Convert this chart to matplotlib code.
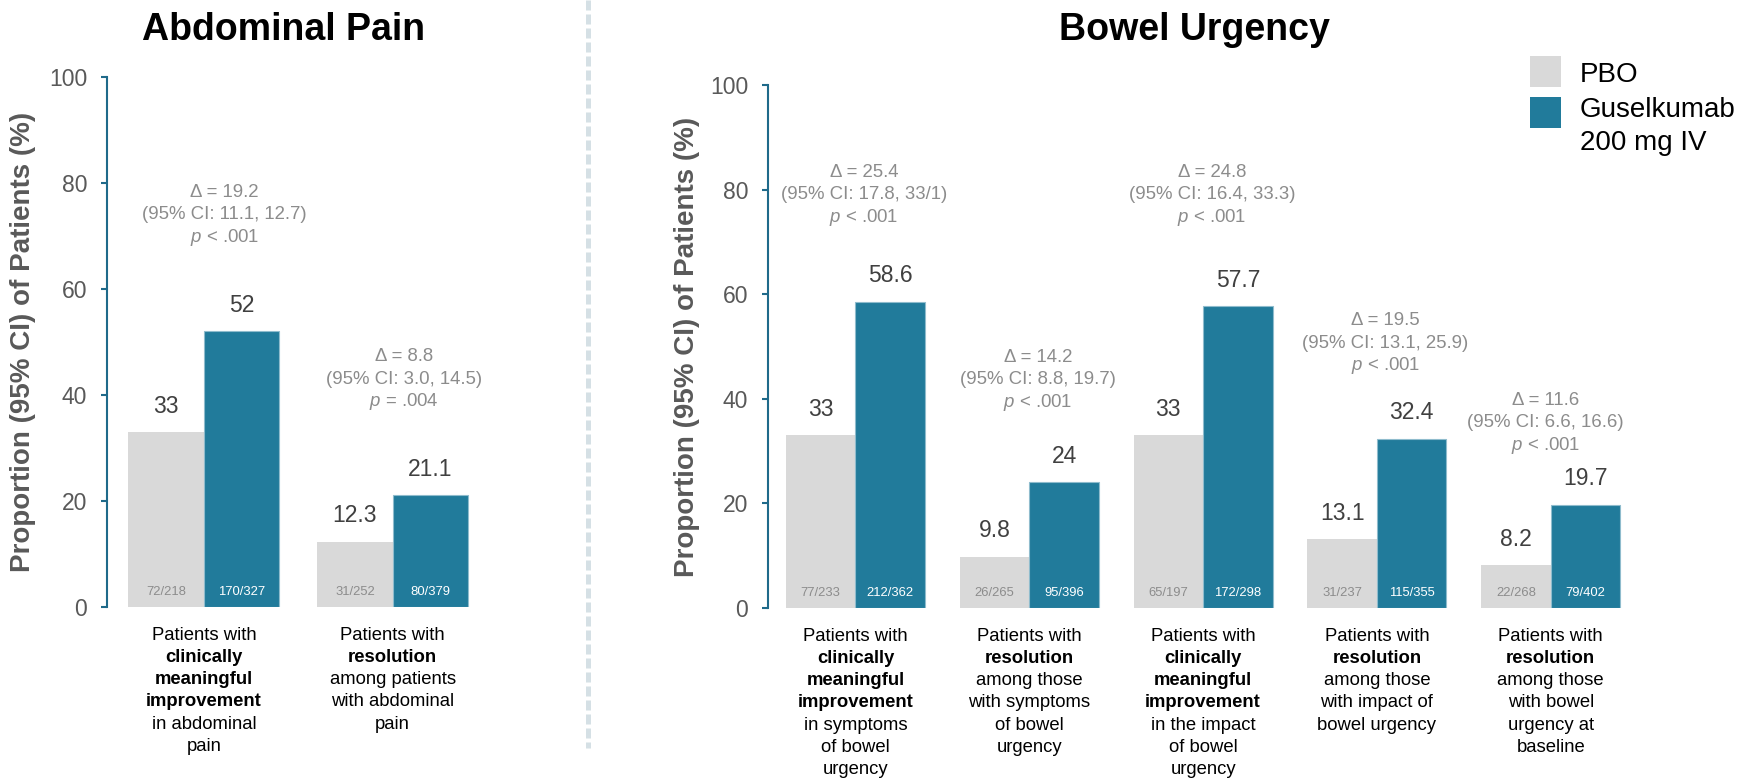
import matplotlib
matplotlib.use("Agg")
import matplotlib.pyplot as plt
from matplotlib.lines import Line2D
from matplotlib.patches import Rectangle
import numpy as np

plt.rcParams['font.family'] = ['Liberation Sans', 'DejaVu Sans']
plt.rcParams['mathtext.fontset'] = 'custom'
plt.rcParams['mathtext.rm'] = 'Liberation Sans'
plt.rcParams['mathtext.it'] = 'Liberation Sans:italic'
plt.rcParams['mathtext.bf'] = 'Liberation Sans:bold'

# ---- data ----
# lines starting with ** are drawn in bold
pain_labels = [
    "Patients with\n**clinically\n**meaningful\n**improvement\nin abdominal\npain",
    "Patients with\n**resolution\namong patients\nwith abdominal\npain",
]
pain_pbo = [33, 12.3]
pain_gus = [52, 21.1]
pain_pbo_n = ["72/218", "31/252"]
pain_gus_n = ["170/327", "80/379"]
pain_delta = ["19.2", "8.8"]
pain_ci = ["11.1, 12.7", "3.0, 14.5"]
pain_p = ["< .001", "= .004"]

urg_labels = [
    "Patients with\n**clinically\n**meaningful\n**improvement\nin symptoms\nof bowel\nurgency",
    "Patients with\n**resolution\namong those\nwith symptoms\nof bowel\nurgency",
    "Patients with\n**clinically\n**meaningful\n**improvement\nin the impact\nof bowel\nurgency",
    "Patients with\n**resolution\namong those\nwith impact of\nbowel urgency",
    "Patients with\n**resolution\namong those\nwith bowel\nurgency at\nbaseline",
]
urg_pbo = [33, 9.8, 33, 13.1, 8.2]
urg_gus = [58.6, 24, 57.7, 32.4, 19.7]
urg_pbo_n = ["77/233", "26/265", "65/197", "31/237", "22/268"]
urg_gus_n = ["212/362", "95/396", "172/298", "115/355", "79/402"]
urg_delta = ["25.4", "14.2", "24.8", "19.5", "11.6"]
urg_ci = ["17.8, 33/1", "8.8, 19.7", "16.4, 33.3", "13.1, 25.9", "6.6, 16.6"]
urg_p = ["< .001", "< .001", "< .001", "< .001", "< .001"]

# layout of the difference annotations (height of middle line, x shift)
pain_delta_y = [74.0, 43.0]
pain_delta_dx = [0.11, 0.06]
urg_delta_y = [79.0, 43.6, 79.0, 50.6, 35.4]
urg_delta_dx = [0.05, 0.05, 0.05, 0.05, -0.03]

PBO_COLOR = "#d9d9d9"
GUS_COLOR = "#217b9b"
GUS_EDGE = "#8fbccd"
SPINE_COLOR = "#1f6a8a"
TICK_COLOR = "#595959"
VALUE_COLOR = "#404040"
DELTA_COLOR = "#8c8c8c"

W, H = 1748, 779
fig = plt.figure(figsize=(W / 100, H / 100), dpi=100)


def px_axes(x0, x1, y_top, y_bot):
    return [x0 / W, 1 - y_bot / H, (x1 - x0) / W, (y_bot - y_top) / H]


def draw_panel(ax, labels, pbo, gus, pbo_n, gus_n, delta, ci, pval, dy, dx, xlim, ylabel_x):
    x = np.arange(len(labels))
    w = 0.4
    b1 = ax.bar(x - w / 2, pbo, w, color=PBO_COLOR, linewidth=0)
    b2 = ax.bar(x + w / 2, gus, w, color=GUS_COLOR, edgecolor=GUS_EDGE, linewidth=0.8)

    for bars, vals, counts, ccol in [(b1, pbo, pbo_n, DELTA_COLOR), (b2, gus, gus_n, "white")]:
        for rect, v, c in zip(bars, vals, counts):
            cx = rect.get_x() + rect.get_width() / 2
            ax.annotate(f"{v:g}", (cx, v), xytext=(0, 18.7), textcoords="offset points",
                        ha="center", va="center", fontsize=16.5, color=VALUE_COLOR)
            ax.annotate(c, (cx, 0), xytext=(0, 10.8), textcoords="offset points",
                        ha="center", va="center", fontsize=9.4, color=ccol)

    # difference annotations
    for i in range(len(labels)):
        lines = [f"\u0394 = {delta[i]}", f"(95% CI: {ci[i]})", f"$\\mathit{{p}}$ {pval[i]}"]
        for j, line in enumerate(lines):
            ax.annotate(line, (x[i] + dx[i], dy[i]), xytext=(0, 16.2 * (1 - j)),
                        textcoords="offset points", ha="center", va="center",
                        fontsize=13.4, color=DELTA_COLOR)

    # category labels under the bars
    for i, lab in enumerate(labels):
        for j, line in enumerate(lab.split("\n")):
            bold = line.startswith("**")
            ax.annotate(line.lstrip("*"), (x[i], 0), xycoords=("data", "axes fraction"),
                        xytext=(0, -(20.2 + 16.05 * j)), textcoords="offset points",
                        ha="center", va="center", fontsize=13.3,
                        fontweight="bold" if bold else "normal", color="black",
                        annotation_clip=False)

    ax.set_xlim(*xlim)
    ax.set_ylim(0, 100)
    ax.set_yticks([0, 20, 40, 60, 80, 100])
    ax.set_xticks([])
    for s in ["top", "right", "bottom"]:
        ax.spines[s].set_visible(False)
    ax.spines["left"].set_color(SPINE_COLOR)
    ax.spines["left"].set_linewidth(1.5)
    ax.tick_params(axis="y", colors=SPINE_COLOR, labelcolor=TICK_COLOR, labelsize=16.5,
                   length=4.3, width=1.5, pad=10)
    ax.set_ylabel("Proportion (95% CI) of Patients (%)", fontsize=20, fontweight="bold",
                  color=TICK_COLOR)
    ax.yaxis.set_label_coords(ylabel_x, 0.5)
    ax.yaxis.label.set_verticalalignment("center")
    ax.set_facecolor("none")


ax1 = fig.add_axes(px_axes(107, 506, 77, 607))
draw_panel(ax1, pain_labels, pain_pbo, pain_gus, pain_pbo_n, pain_gus_n,
           pain_delta, pain_ci, pain_p, pain_delta_y, pain_delta_dx,
           (-0.513, 1.6), (23 - 107) / 399)

ax2 = fig.add_axes(px_axes(768, 1655, 85, 608))
draw_panel(ax2, urg_labels, urg_pbo, urg_gus, urg_pbo_n, urg_gus_n,
           urg_delta, urg_ci, urg_p, urg_delta_y, urg_delta_dx,
           (-0.503, 4.6), (687 - 768) / 887)

# titles
fig.text(284 / W, 1 - 40 / H, "Abdominal Pain", ha="center", va="baseline",
         fontsize=27, fontweight="bold", color="black")
fig.text(1194 / W, 1 - 40 / H, "Bowel Urgency", ha="center", va="baseline",
         fontsize=27, fontweight="bold", color="black")

# dashed separator between the panels
fig.add_artist(Line2D([588 / W, 588 / W], [1, 1 - 748 / H], transform=fig.transFigure,
                      color="#d5e0e5", linewidth=3.6, linestyle=(0, (2.0, 0.8))))

# legend
fig.add_artist(Rectangle((1530 / W, 1 - 87 / H), 31 / W, 31 / H, transform=fig.transFigure,
                         facecolor=PBO_COLOR, edgecolor="none"))
fig.add_artist(Rectangle((1530 / W, 1 - 128 / H), 31 / W, 31 / H, transform=fig.transFigure,
                         facecolor=GUS_COLOR, edgecolor="none"))
fig.text(1580 / W, 1 - 75 / H, "PBO", va="center", fontsize=20, color="black")
fig.text(1580 / W, 1 - 110 / H, "Guselkumab", va="center", fontsize=20, color="black")
fig.text(1580 / W, 1 - 143 / H, "200 mg IV", va="center", fontsize=20, color="black")

fig.savefig("out.png", dpi=100, facecolor="white")
